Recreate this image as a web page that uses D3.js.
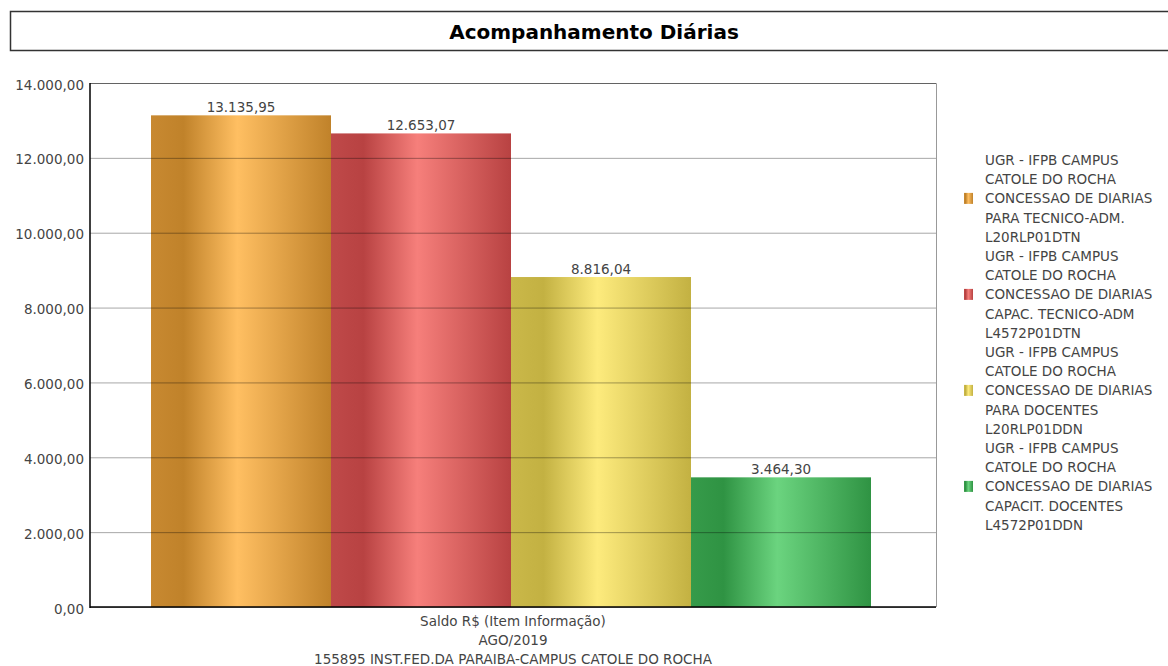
<!DOCTYPE html>
<html>
<head>
<meta charset="utf-8">
<script src="https://cdn.jsdelivr.net/npm/d3@7.9.0/dist/d3.min.js"></script>
<style>
  html, body { margin: 0; padding: 0; background: #fff; }
  svg { display: block; font-family: "DejaVu Sans", Verdana, sans-serif; }
</style>
</head>
<body>
<svg id="chart" width="1168" height="666"></svg>
<script>
// --- data ---
const title = 'Acompanhamento Diárias';
const seriesNames = [
  ['UGR - IFPB CAMPUS', 'CATOLE DO ROCHA', 'CONCESSAO DE DIARIAS', 'PARA TECNICO-ADM.', 'L20RLP01DTN'],
  ['UGR - IFPB CAMPUS', 'CATOLE DO ROCHA', 'CONCESSAO DE DIARIAS', 'CAPAC. TECNICO-ADM', 'L4572P01DTN'],
  ['UGR - IFPB CAMPUS', 'CATOLE DO ROCHA', 'CONCESSAO DE DIARIAS', 'PARA DOCENTES', 'L20RLP01DDN'],
  ['UGR - IFPB CAMPUS', 'CATOLE DO ROCHA', 'CONCESSAO DE DIARIAS', 'CAPACIT. DOCENTES', 'L4572P01DDN']
];
const values = [13135.95, 12653.07, 8816.04, 3464.30];
const yTicks = [0, 2000, 4000, 6000, 8000, 10000, 12000, 14000];
const categoryLines = ['Saldo R$ (Item Informação)', 'AGO/2019', '155895 INST.FED.DA PARAIBA-CAMPUS CATOLE DO ROCHA'];
const darkColors = ['#c0822a', '#b84242', '#c3b142', '#2f9343'];
const lightColors = ['#ffbf62', '#f67f7b', '#fdeb7d', '#6bd47f'];

// --- setup ---
const svg = d3.select('#chart');
const plot = { left: 90, right: 936, top: 83, bottom: 607 };
const fontSize = 13.5;

// pt-BR number format
const ptBR = d3.formatLocale({ decimal: ',', thousands: '.', grouping: [3], currency: ['R$', ''] });
const fmt = ptBR.format(',.2f');

// gradients
const defs = svg.append('defs');
darkColors.forEach((dark, i) => {
  const g = defs.append('linearGradient').attr('id', 'grad' + i)
    .attr('x1', '0%').attr('x2', '100%').attr('y1', '0%').attr('y2', '0%');
  g.append('stop').attr('offset', '0%').attr('stop-color', d3.interpolateRgb(dark, lightColors[i])(0.12));
  g.append('stop').attr('offset', '18%').attr('stop-color', dark);
  g.append('stop').attr('offset', '48%').attr('stop-color', lightColors[i]);
  g.append('stop').attr('offset', '100%').attr('stop-color', dark);
});

// title box
svg.append('rect').attr('x', 10.5).attr('y', 11.5).attr('width', 1170).attr('height', 39)
  .attr('fill', '#fff').attr('stroke', '#333').attr('stroke-width', 1.5);
svg.append('text').attr('x', 594).attr('y', 38.5).attr('text-anchor', 'middle')
  .attr('font-size', 20).attr('font-weight', 'bold').attr('fill', '#000').text(title);

// scales
const y = d3.scaleLinear().domain([0, 14000]).range([plot.bottom, plot.top]);
const x = d3.scaleBand().domain(d3.range(values.length)).range([151, 871]).padding(0);

// plot frame (top/right)
svg.append('path')
  .attr('d', `M${plot.left},${plot.top + 0.5}H${plot.right + 0.5}V${plot.bottom}`)
  .attr('fill', 'none').attr('stroke', '#999');

// bars
svg.selectAll('rect.bar').data(values).join('rect')
  .attr('class', 'bar')
  .attr('x', (d, i) => x(i))
  .attr('y', d => y(d))
  .attr('width', x.bandwidth())
  .attr('height', d => y(0) - y(d))
  .attr('fill', (d, i) => `url(#grad${i})`);

// gridlines (drawn over bars, semi transparent)
const yAxis = d3.axisLeft(y).tickValues(yTicks).tickSize(-(plot.right - plot.left)).tickFormat(fmt).tickPadding(6);
const ga = svg.append('g').attr('transform', `translate(${plot.left},0)`).call(yAxis);
ga.select('.domain').remove();
ga.selectAll('.tick line').attr('stroke', '#000').attr('stroke-opacity', 0.35);
ga.selectAll('.tick text').attr('font-size', fontSize).attr('fill', '#444')
  .attr('font-family', '"DejaVu Sans", Verdana, sans-serif').attr('dy', '0.45em');

// axis lines
svg.append('line').attr('x1', plot.left).attr('x2', plot.left).attr('y1', plot.top).attr('y2', plot.bottom + 1)
  .attr('stroke', '#000').attr('stroke-width', 1.5);
svg.append('line').attr('x1', plot.left).attr('x2', plot.right).attr('y1', plot.bottom).attr('y2', plot.bottom)
  .attr('stroke', '#000').attr('stroke-width', 1.5);

// value labels
svg.selectAll('text.val').data(values).join('text')
  .attr('class', 'val')
  .attr('x', (d, i) => x(i) + x.bandwidth() / 2)
  .attr('y', d => y(d) - 3)
  .attr('text-anchor', 'middle')
  .attr('font-size', fontSize).attr('fill', '#444')
  .text(d => fmt(d));

// category labels
svg.selectAll('text.cat').data(categoryLines).join('text')
  .attr('class', 'cat')
  .attr('x', 513).attr('y', (d, i) => 626 + i * 19)
  .attr('text-anchor', 'middle').attr('font-size', fontSize).attr('fill', '#444')
  .text(d => d);

// legend
const lineH = 19.2;
const legend = svg.append('g');
seriesNames.forEach((lines, i) => {
  const top = 160 + i * 5 * lineH;
  lines.forEach((ln, j) => {
    legend.append('text').attr('x', 985).attr('y', top + j * lineH + 5)
      .attr('font-size', fontSize).attr('fill', '#444').text(ln);
  });
  legend.append('rect').attr('x', 964).attr('y', top + 2 * lineH - 5.5).attr('width', 9).attr('height', 11)
    .attr('fill', `url(#grad${i})`);
});
</script>
</body>
</html>
